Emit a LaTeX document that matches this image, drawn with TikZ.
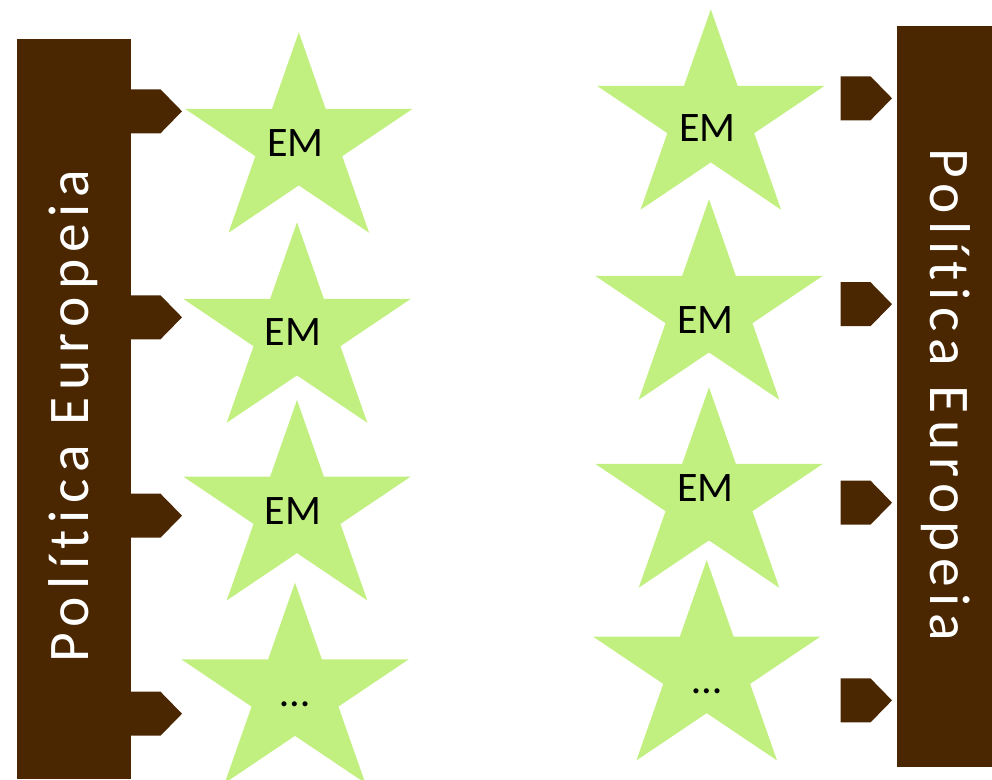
\documentclass[tikz,border=0pt]{standalone}
\usepackage{fontspec}
\setmainfont{Carlito}
\newfontfamily\barfont[LetterSpace=12,Ligatures={NoCommon}]{Carlito}
\definecolor{pebrown}{HTML}{4A2700}
\definecolor{emgreen}{HTML}{C1F080}
\tikzset{
  barfill/.style={fill=pebrown},
  starfill/.style={fill=emgreen},
  emtext/.style={font=\fontsize{42}{44}\selectfont, anchor=base, inner sep=0pt, text=black},
  bartext/.style={font=\barfont\fontsize{57.5}{60}\selectfont, anchor=base, inner sep=0pt, text=white}
}
\newcommand\emstar[2]{%
  \fill[starfill, shift={(#1,#2)}, xscale=119.6, yscale=-110.8]
    (90:1) -- (126:0.382) -- (162:1) -- (198:0.382) -- (234:1) -- (270:0.382)
    -- (306:1) -- (342:0.382) -- (18:1) -- (54:0.382) -- cycle;}
\newcommand\lefttab[1]{%
  \fill[barfill, shift={(0,#1)}] (128,-22) -- (160.5,-22) -- (182,0) -- (160.5,22) -- (128,22) -- cycle;}
\newcommand\righttab[1]{%
  \fill[barfill, shift={(0,#1)}] (840.5,-22) -- (870.5,-22) -- (892,0) -- (870.5,22) -- (840.5,22) -- cycle;}
\begin{document}
\begin{tikzpicture}[x=1pt,y=-1pt]
\useasboundingbox (0,0) rectangle (992,779);
% bars
\fill[barfill] (17,39) rectangle (131,779);
\fill[barfill] (897,26) rectangle (992,766.5);
\node[bartext, rotate=90] (leftlabel) at (88,416) {Política Europeia};
\node[bartext, rotate=-90] (rightlabel) at (930,395) {Política Europeia};
% tabs
\lefttab{111.3}
\lefttab{317.3}
\lefttab{515.7}
\lefttab{713.7}
\righttab{98.3}
\righttab{304.2}
\righttab{502.7}
\righttab{700.4}
% stars
\emstar{298.8}{143.1}
\emstar{297}{333.1}
\emstar{297}{510.8}
\emstar{295}{693.5}
\emstar{710.8}{120.1}
\emstar{709}{310.1}
\emstar{709}{498.1}
\emstar{706.7}{670.8}
% star labels
\node[emtext] (l1) at (295.3,156) {EM};
\node[emtext] (l2) at (293,345.7) {EM};
\node[emtext] (l3) at (293,524) {EM};
\node[emtext] (l4) at (295,706) {…};
\node[emtext] (r1) at (707.5,141.7) {EM};
\node[emtext] (r2) at (705.3,333.3) {EM};
\node[emtext] (r3) at (705.3,501.3) {EM};
\node[emtext] (r4) at (706.7,693.3) {…};
\end{tikzpicture}
\end{document}
